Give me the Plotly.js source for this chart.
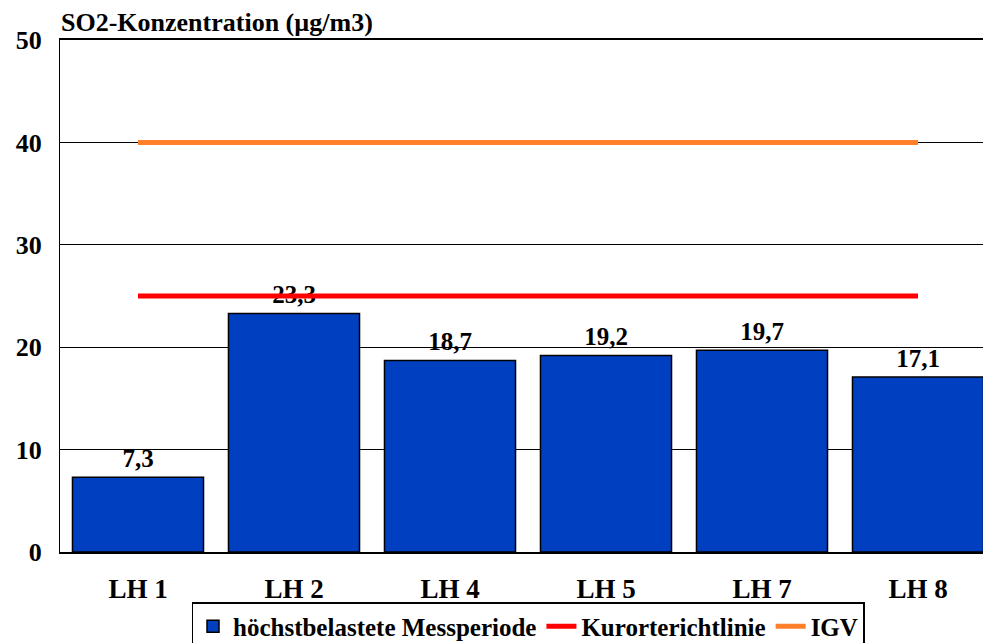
<!DOCTYPE html>
<html>
<head>
<meta charset="utf-8">
<script src="https://cdn.plot.ly/plotly-3.0.1.min.js"></script>
<style>
html,body{margin:0;padding:0;overflow:hidden;background:#fff;}
#chart{width:996px;height:643px;}
</style>
</head>
<body>
<div id="chart"></div>
<script>
const categories = ["LH 1", "LH 2", "LH 4", "LH 5", "LH 7", "LH 8"];
const messperiode = [7.3, 23.3, 18.7, 19.2, 19.7, 17.1];
const kurort = [25, 25, 25, 25, 25, 25];
const igv = [40, 40, 40, 40, 40, 40];
const yTicks = [0, 10, 20, 30, 40, 50];

const fontFam = "Liberation Serif, Times New Roman, serif";
function bold(size) { return {family: fontFam, size: size, color: "#000", weight: "bold"}; }

const traces = [
  {
    type: "bar",
    name: "höchstbelastete Messperiode",
    x: categories,
    y: messperiode,
    marker: {color: "rgb(0,64,192)", line: {color: "#000", width: 1.5}},
    hoverinfo: "skip"
  },
  {
    type: "scatter",
    mode: "markers+text",
    x: categories,
    y: messperiode,
    marker: {size: 5, opacity: 0},
    texttemplate: "%{y:.1f}",
    textposition: "top center",
    textfont: bold(25),
    cliponaxis: false,
    showlegend: false,
    hoverinfo: "skip"
  },
  {
    type: "scatter",
    mode: "lines",
    name: "Kurorterichtlinie",
    x: categories,
    y: kurort,
    line: {color: "#ff0000", width: 5}
  },
  {
    type: "scatter",
    mode: "lines",
    name: "IGV",
    x: categories,
    y: igv,
    line: {color: "#ff7f2a", width: 5}
  }
];

const layout = {
  width: 996,
  height: 643,
  margin: {l: 60, r: 0, t: 40, b: 91, autoexpand: false},
  paper_bgcolor: "#fff",
  plot_bgcolor: "#fff",
  separators: ",.",
  bargap: 0.16,
  showlegend: true,
  font: {family: fontFam, color: "#000"},
  title: {
    text: "SO2-Konzentration (µg/m3)",
    font: bold(26),
    x: 61 / 996, xref: "container", xanchor: "left",
    y: 1 - 22 / 643, yref: "container", yanchor: "middle"
  },
  xaxis: {
    type: "category",
    showline: true, linecolor: "#000", linewidth: 2, mirror: true,
    showgrid: false, ticks: "",
    tickfont: bold(27),
    ticklabelstandoff: 12
  },
  yaxis: {
    range: [0, 50],
    tickvals: yTicks,
    showline: true, linecolor: "#000", linewidth: 1,
    showgrid: true, gridcolor: "#000", gridwidth: 1,
    zeroline: false, ticks: "",
    tickfont: bold(26),
    ticklabelstandoff: 12
  },
  legend: {
    orientation: "h",
    x: 0.5, xanchor: "center",
    y: 1 - 602 / 643, yref: "container", yanchor: "top",
    bordercolor: "#000", borderwidth: 1.5,
    font: bold(25),
    itemwidth: 30,
    tracegroupgap: 0
  }
};

Plotly.newPlot("chart", traces, layout, {staticPlot: true, displayModeBar: false});
</script>
</body>
</html>
